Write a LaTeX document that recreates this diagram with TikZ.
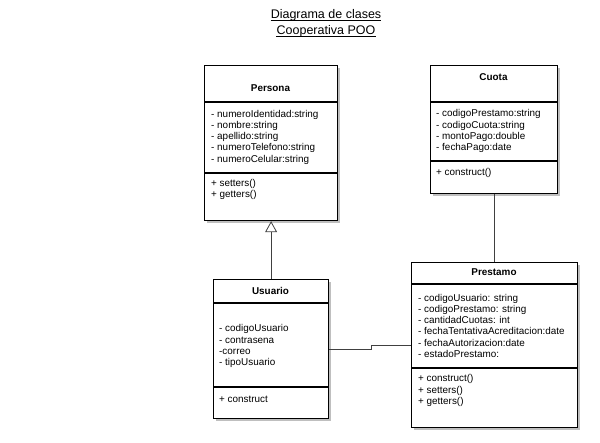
\documentclass[tikz,border=0pt]{standalone}
\usepackage{fontspec}
\setmainfont{Liberation Sans}
\usetikzlibrary{arrows.meta}
\begin{document}
\begin{tikzpicture}[x=1pt,y=-1pt,
  classbox/.style={draw=black,line width=1.2pt,fill=white,inner sep=0pt,anchor=north west},
  shadowbox/.style={fill=black!25,draw=none},
  divider/.style={draw=black,line width=1.1pt},
  hdr/.style={font=\fontsize{9.9}{11}\selectfont\bfseries,anchor=center},
  attr/.style={font=\fontsize{9.9}{11.2}\selectfont,anchor=north west,align=left,inner sep=0pt},
  ttl/.style={font=\fontsize{12.5}{14}\selectfont,anchor=base,inner sep=0pt},
  conn/.style={draw=black!75,line width=0.8pt}]
\useasboundingbox (0,0) rectangle (600,443);
% title
\node[ttl] (t1) at (326,18.3) {Diagrama de clases};
\node[ttl] (t2) at (326,34.3) {Cooperativa POO};
\draw[line width=0.7pt] ([yshift=-1.8pt]t1.base west) -- ([yshift=-1.8pt]t1.base east);
\draw[line width=0.7pt] ([yshift=-1.8pt]t2.base west) -- ([yshift=-1.8pt]t2.base east);
% shadows
\fill[shadowbox] (207,68) rectangle (340,223);
\fill[shadowbox] (433,68) rectangle (560,196);
\fill[shadowbox] (216,282) rectangle (331,421);
\fill[shadowbox] (414,265) rectangle (580,430);
% Persona
\node[classbox,minimum width=133pt,minimum height=155pt] (per) at (204,65) {};
\draw[divider] (204,102) -- (337,102);
\draw[divider] (204,173) -- (337,173);
\node[hdr] (perh) at (270.5,88) {Persona};
\node[attr] (pera) at (211,110) {- numeroIdentidad:string\\- nombre:string\\- apellido:string\\- numeroTelefono:string\\- numeroCelular:string};
\node[attr] (perm) at (211,179.3) {+ setters()\\+ getters()};
% Cuota
\node[classbox,minimum width=127pt,minimum height=128pt] (cuo) at (430,65) {};
\draw[divider] (430,102) -- (557,102);
\draw[divider] (430,161) -- (557,161);
\node[hdr] (cuoh) at (493.5,77) {Cuota};
\node[attr] (cuoa) at (436,109.6) {- codigoPrestamo:string\\- codigoCuota:string\\- montoPago:double\\- fechaPago:date};
\node[attr] (cuom) at (436,168) {+ construct()};
% Usuario
\node[classbox,minimum width=115pt,minimum height=139pt] (usu) at (213,279) {};
\draw[divider] (213,303) -- (328,303);
\draw[divider] (213,387) -- (328,387);
\node[hdr] (usuh) at (270.5,291) {Usuario};
\node[attr] (usua) at (219,324.5) {- codigoUsuario\\- contrasena\\-correo\\- tipoUsuario};
\node[attr] (usum) at (219,396) {+ construct};
% Prestamo
\node[classbox,minimum width=166pt,minimum height=165pt] (pre) at (411,262) {};
\draw[divider] (411,284) -- (577,284);
\draw[divider] (411,368) -- (577,368);
\node[hdr] (preh) at (494,272) {Prestamo};
\node[attr] (prea) at (418,294) {- codigoUsuario: string\\- codigoPrestamo: string\\- cantidadCuotas: int\\- fechaTentativaAcreditacion:date\\- fechaAutorizacion:date\\- estadoPrestamo:};
\node[attr] (prem) at (418,374.5) {+ construct()\\+ setters()\\+ getters()};
% connectors
\draw[conn,-{Triangle[open,length=11pt,width=12pt,line width=0.8pt]}] (usu.north) -- (per.south);
\draw[conn] (cuo.south) -- (cuo.south |- pre.north);
\draw[conn] (usu.east) -- ++(42,0) |- (pre.west);
\end{tikzpicture}
\end{document}
